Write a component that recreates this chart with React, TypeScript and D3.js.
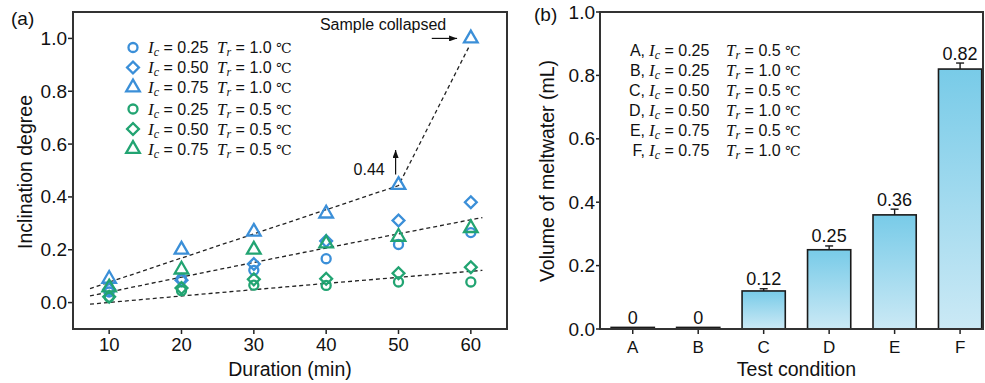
import React from 'react';
import * as d3 from 'd3';

// ---------- Data: panel (a) ----------
const durations = [10, 20, 30, 40, 50, 60];
const blueCircle = [0.04, 0.09, 0.122, 0.166, 0.22, 0.265];
const blueDiamond = [0.05, 0.085, 0.146, 0.233, 0.311, 0.38];
const blueTriangle = [0.09, 0.2, 0.268, 0.337, 0.445, 1.0];
const greenCircle = [0.02, 0.045, 0.066, 0.065, 0.078, 0.078];
const greenDiamond = [0.022, 0.055, 0.088, 0.09, 0.111, 0.134];
const greenTriangle = [0.057, 0.125, 0.2, 0.224, 0.249, 0.282];

const seriesIc = ['0.25', '0.50', '0.75', '0.25', '0.50', '0.75'];
const seriesTr = ['1.0', '1.0', '1.0', '0.5', '0.5', '0.5'];

// fitted trend lines (dashed)
const fitTopX = [7.35, 50, 59.7];
const fitTopY = [0.053, 0.443, 0.966];
const fitMidX = [7.35, 30, 61.6];
const fitMidY = [0.025, 0.152, 0.322];
const fitLowX = [7.35, 30, 61.6];
const fitLowY = [-0.006, 0.049, 0.122];

const xTicksA = [10, 20, 30, 40, 50, 60];
const yTicksA = [0.0, 0.2, 0.4, 0.6, 0.8, 1.0];

// ---------- Data: panel (b) ----------
const conditions = ['A', 'B', 'C', 'D', 'E', 'F'];
const meltwater = [0.005, 0.005, 0.12, 0.25, 0.36, 0.82];
const meltErr = [0, 0, 0.007, 0.012, 0.018, 0.019];
const meltLabels = ['0', '0', '0.12', '0.25', '0.36', '0.82'];
const condIc = ['0.25', '0.25', '0.50', '0.50', '0.75', '0.75'];
const condTr = ['0.5', '1.0', '0.5', '1.0', '0.5', '1.0'];
const yTicksB = [0.0, 0.2, 0.4, 0.6, 0.8, 1.0];

const BLUE = '#3b8fd8';
const GREEN = '#22a472';
const SANS = '"Liberation Sans", Arial, Helvetica, sans-serif';
const SERIF = '"Liberation Serif", "Times New Roman", serif';

function Params({ x, y, ic, tr, tX }: { x: number; y: number; ic: string; tr: string; tX: number }) {
  return (
    <text y={y} fontFamily={SANS} fontSize={16} fill="#111">
      <tspan x={x} fontFamily={SERIF} fontStyle="italic" fontSize={17}>I</tspan>
      <tspan fontFamily={SERIF} fontStyle="italic" fontSize={12} dy={3}>c</tspan>
      <tspan dy={-3}>{` = ${ic}`}</tspan>
      <tspan x={tX} fontFamily={SERIF} fontStyle="italic" fontSize={17}>T</tspan>
      <tspan fontFamily={SERIF} fontStyle="italic" fontSize={12} dy={3}>r</tspan>
      <tspan dy={-3}>{` = ${tr} `}</tspan>
      <tspan fontFamily={'"DejaVu Serif", serif'} fontSize={14}>℃</tspan>
    </text>
  );
}

export default function App() {
  const xA = d3.scaleLinear().domain([5, 65]).range([73, 507]);
  const yA = d3.scaleLinear().domain([-0.1, 1.1]).range([329, 12]);
  const xB = d3.scaleLinear().domain([-0.5, 5.35]).range([600, 983]);
  const yB = d3.scaleLinear().domain([0, 1]).range([329, 12]);

  const series = [
    { vals: blueCircle, shape: 'circle', color: BLUE },
    { vals: blueDiamond, shape: 'diamond', color: BLUE },
    { vals: blueTriangle, shape: 'triangle', color: BLUE },
    { vals: greenCircle, shape: 'circle', color: GREEN },
    { vals: greenDiamond, shape: 'diamond', color: GREEN },
    { vals: greenTriangle, shape: 'triangle', color: GREEN },
  ];

  const sym = (shape: string) => {
    if (shape === 'circle') return d3.symbol().type(d3.symbolCircle).size(64)() as string;
    if (shape === 'diamond') return d3.symbol().type(d3.symbolSquare).size(70)() as string;
    return d3.symbol().type(d3.symbolTriangle).size(80)() as string;
  };
  const rot = (shape: string) => (shape === 'diamond' ? ' rotate(45)' : '');

  const lineA = d3.line<[number, number]>().x(d => xA(d[0])).y(d => yA(d[1]));
  const smoothA = d3.line<[number, number]>().x(d => xA(d[0])).y(d => yA(d[1])).curve(d3.curveMonotoneX);
  const zip = (xs: number[], ys: number[]) => xs.map((v, i) => [v, ys[i]] as [number, number]);

  const legendRowY = (i: number) => 47.5 + i * 20 + (i >= 3 ? 1.5 : 0);
  const bw = xB(0.33) - xB(-0.33);

  return (
    <svg width={985} height={383} style={{ position: 'absolute', left: 0, top: 0, background: '#fff' }}>
      <defs>
        <linearGradient id="barGrad" x1="0" y1="0" x2="0" y2="1">
          <stop offset="0%" stopColor="#78cbe8" />
          <stop offset="100%" stopColor="#cbe9f5" />
        </linearGradient>
        <marker id="arrow" viewBox="0 0 8 6" refX="8" refY="3" markerWidth="8" markerHeight="6" markerUnits="userSpaceOnUse" orient="auto">
          <path d="M0,0 L8,3 L0,6 z" fill="#111" />
        </marker>
      </defs>

      {/* ================= Panel (a) ================= */}
      <text x={11} y={25} fontFamily={SANS} fontSize={19} fill="#111">(a)</text>
      {xTicksA.map(t => (
        <g key={'xa' + t}>
          <line x1={xA(t)} x2={xA(t)} y1={329} y2={334} stroke="#222" strokeWidth={1.5} />
          <text x={xA(t)} y={351} textAnchor="middle" fontFamily={SANS} fontSize={18.5} fill="#111">{t}</text>
        </g>
      ))}
      {yTicksA.map(t => (
        <g key={'ya' + t}>
          <line x1={68} x2={73} y1={yA(t)} y2={yA(t)} stroke="#222" strokeWidth={1.5} />
          <text x={67} y={yA(t) + 6.5} textAnchor="end" fontFamily={SANS} fontSize={19} fill="#111">{d3.format('.1f')(t)}</text>
        </g>
      ))}
      <text transform={`translate(31.5,172) rotate(-90)`} textAnchor="middle" fontFamily={SANS} fontSize={19.5} fill="#111">Inclination degree</text>
      <text x={xA(35)} y={376} textAnchor="middle" fontFamily={SANS} fontSize={19.5} fill="#111">Duration (min)</text>

      {/* fit lines */}
      <path d={lineA(zip(fitTopX, fitTopY)) as string} fill="none" stroke="#222" strokeWidth={1.3} strokeDasharray="4,3" />
      <path d={smoothA(zip(fitMidX, fitMidY)) as string} fill="none" stroke="#222" strokeWidth={1.3} strokeDasharray="4,3" />
      <path d={smoothA(zip(fitLowX, fitLowY)) as string} fill="none" stroke="#222" strokeWidth={1.3} strokeDasharray="4,3" />

      {/* markers */}
      {series.map((s, si) => (
        <g key={'s' + si}>
          {s.vals.map((v, i) => (
            <path key={i} d={sym(s.shape)} transform={`translate(${xA(durations[i])},${yA(v)})${rot(s.shape)}`} fill="none" stroke={s.color} strokeWidth={2.3} />
          ))}
        </g>
      ))}

      {/* annotations */}
      <text x={xA(56.6)} y={yA(1.033)} textAnchor="end" fontFamily={SANS} fontSize={16} fill="#111">Sample collapsed</text>
      <line x1={xA(54.6)} x2={xA(58.1)} y1={yA(1.0)} y2={yA(1.0)} stroke="#111" strokeWidth={1.2} markerEnd="url(#arrow)" />
      <text x={xA(48.1)} y={yA(0.483)} textAnchor="end" fontFamily={SANS} fontSize={16} fill="#111">0.44</text>
      <line x1={xA(49.6)} x2={xA(49.6)} y1={yA(0.485)} y2={yA(0.578)} stroke="#111" strokeWidth={1.2} markerEnd="url(#arrow)" />

      {/* legend (a) */}
      {series.map((s, i) => (
        <g key={'lg' + i}>
          <path d={sym(s.shape)} transform={`translate(133,${legendRowY(i)})${rot(s.shape)}`} fill="none" stroke={s.color} strokeWidth={2.3} />
          <Params x={148} y={legendRowY(i) + 5.5} ic={seriesIc[i]} tr={seriesTr[i]} tX={217} />
        </g>
      ))}

      <rect x={73} y={12} width={507 - 73} height={329 - 12} fill="none" stroke="#333" strokeWidth={2} />

      {/* ================= Panel (b) ================= */}
      <text x={534} y={21} fontFamily={SANS} fontSize={19} fill="#111">(b)</text>
      {conditions.map((c, i) => (
        <g key={'xb' + c}>
          <line x1={xB(i)} x2={xB(i)} y1={329} y2={334} stroke="#222" strokeWidth={1.5} />
          <text x={xB(i)} y={352.5} textAnchor="middle" fontFamily={SANS} fontSize={17} fill="#111">{c}</text>
        </g>
      ))}
      {yTicksB.map(t => (
        <g key={'yb' + t}>
          <line x1={596} x2={600} y1={yB(t)} y2={yB(t)} stroke="#222" strokeWidth={1.5} />
          <text x={595} y={yB(t) + 6.5} textAnchor="end" fontFamily={SANS} fontSize={19} fill="#111">{d3.format('.1f')(t)}</text>
        </g>
      ))}
      <text transform={`translate(554,171) rotate(-90)`} textAnchor="middle" fontFamily={SANS} fontSize={19.5} fill="#111">Volume of meltwater (mL)</text>
      <text x={xB(2.5)} y={376} textAnchor="middle" fontFamily={SANS} fontSize={19.5} fill="#111">Test condition</text>

      {conditions.map((c, i) => {
        const top = yB(meltwater[i]);
        const errTop = yB(meltwater[i] + meltErr[i]);
        return (
          <g key={'bar' + c}>
            <rect x={xB(i) - bw / 2} y={top} width={bw} height={yB(0) - top} fill="url(#barGrad)" stroke="#1a1a1a" strokeWidth={1.6} />
            {meltErr[i] > 0 && (
              <g stroke="#1a1a1a" strokeWidth={1.4}>
                <line x1={xB(i)} x2={xB(i)} y1={top} y2={errTop} />
                <line x1={xB(i) - 4} x2={xB(i) + 4} y1={errTop} y2={errTop} />
              </g>
            )}
            <text x={xB(i)} y={errTop - 3.5} textAnchor="middle" fontFamily={SANS} fontSize={18} fill="#111">{meltLabels[i]}</text>
          </g>
        );
      })}

      {/* legend (b) */}
      {conditions.map((c, i) => (
        <g key={'lb' + c}>
          <text x={645} y={50 + i * 20 + 5.5} textAnchor="end" fontFamily={SANS} fontSize={16} fill="#111">{c + ','}</text>
          <Params x={649} y={50 + i * 20 + 5.5} ic={condIc[i]} tr={condTr[i]} tX={726} />
        </g>
      ))}

      <rect x={600} y={12} width={983 - 600} height={329 - 12} fill="none" stroke="#333" strokeWidth={2} />
    </svg>
  );
}
